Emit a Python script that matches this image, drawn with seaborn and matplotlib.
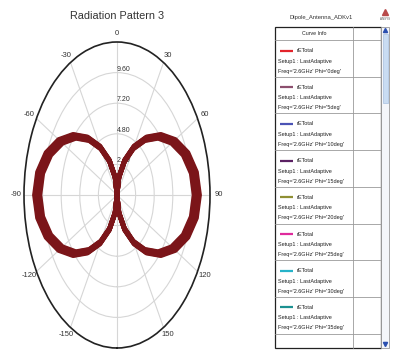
import numpy as np
import pandas as pd
import matplotlib
matplotlib.use("Agg")
import matplotlib.pyplot as plt
from matplotlib.patches import Rectangle
import seaborn as sns

sns.set_theme(style="white")
plt.rcParams["font.family"] = ["Liberation Sans Narrow", "Liberation Sans", "DejaVu Sans"]

# Theta sweep of each far-field cut, degrees
theta_deg = list(range(-180, 181, 10))

# rETotal magnitude for each Phi cut
re_phi0 = [0, 1.46, 2.95, 4.45, 5.95, 7.40, 8.70, 9.74, 10.41, 10.65, 10.41, 9.74, 8.70, 7.40, 5.95, 4.45, 2.95, 1.46,
           0, 1.46, 2.95, 4.45, 5.95, 7.40, 8.70, 9.74, 10.41, 10.65, 10.41, 9.74, 8.70, 7.40, 5.95, 4.45, 2.95, 1.46, 0]
re_phi5 = [0, 1.45, 2.92, 4.41, 5.89, 7.33, 8.61, 9.65, 10.32, 10.55, 10.32, 9.65, 8.61, 7.33, 5.89, 4.41, 2.92, 1.45,
           0, 1.45, 2.92, 4.41, 5.89, 7.33, 8.61, 9.65, 10.32, 10.55, 10.32, 9.65, 8.61, 7.33, 5.89, 4.41, 2.92, 1.45, 0]
re_phi10 = [0, 1.44, 2.89, 4.37, 5.84, 7.26, 8.53, 9.55, 10.22, 10.45, 10.22, 9.55, 8.53, 7.26, 5.84, 4.37, 2.89, 1.44,
            0, 1.44, 2.89, 4.37, 5.84, 7.26, 8.53, 9.55, 10.22, 10.45, 10.22, 9.55, 8.53, 7.26, 5.84, 4.37, 2.89, 1.44, 0]
re_phi15 = [0, 1.42, 2.86, 4.33, 5.78, 7.19, 8.45, 9.46, 10.12, 10.35, 10.12, 9.46, 8.45, 7.19, 5.78, 4.33, 2.86, 1.42,
            0, 1.42, 2.86, 4.33, 5.78, 7.19, 8.45, 9.46, 10.12, 10.35, 10.12, 9.46, 8.45, 7.19, 5.78, 4.33, 2.86, 1.42, 0]
re_phi20 = [0, 1.41, 2.84, 4.28, 5.72, 7.12, 8.37, 9.37, 10.02, 10.25, 10.02, 9.37, 8.37, 7.12, 5.72, 4.28, 2.84, 1.41,
            0, 1.41, 2.84, 4.28, 5.72, 7.12, 8.37, 9.37, 10.02, 10.25, 10.02, 9.37, 8.37, 7.12, 5.72, 4.28, 2.84, 1.41, 0]
re_phi25 = [0, 1.40, 2.81, 4.24, 5.67, 7.05, 8.29, 9.28, 9.93, 10.15, 9.93, 9.28, 8.29, 7.05, 5.67, 4.24, 2.81, 1.40,
            0, 1.40, 2.81, 4.24, 5.67, 7.05, 8.29, 9.28, 9.93, 10.15, 9.93, 9.28, 8.29, 7.05, 5.67, 4.24, 2.81, 1.40, 0]
re_phi30 = [0, 1.38, 2.78, 4.20, 5.61, 6.98, 8.21, 9.19, 9.83, 10.05, 9.83, 9.19, 8.21, 6.98, 5.61, 4.20, 2.78, 1.38,
            0, 1.38, 2.78, 4.20, 5.61, 6.98, 8.21, 9.19, 9.83, 10.05, 9.83, 9.19, 8.21, 6.98, 5.61, 4.20, 2.78, 1.38, 0]
re_phi35 = [0, 1.37, 2.75, 4.16, 5.56, 6.92, 8.12, 9.10, 9.73, 9.95, 9.73, 9.10, 8.12, 6.92, 5.56, 4.16, 2.75, 1.37,
            0, 1.37, 2.75, 4.16, 5.56, 6.92, 8.12, 9.10, 9.73, 9.95, 9.73, 9.10, 8.12, 6.92, 5.56, 4.16, 2.75, 1.37, 0]

phi_labels = ["0deg", "5deg", "10deg", "15deg", "20deg", "25deg", "30deg", "35deg"]
legend_colors = ["#e3242b", "#8c4f6e", "#4b53b5", "#5b2163", "#8f8f33", "#df2b9c", "#26b3c9", "#1c9191"]
curve_color = "#7b1519"

r_ticks = [2.4, 4.8, 7.2, 9.6]
r_max = 12.0
theta_tick_deg = [0, 30, 60, 90, 120, 150, 180, -150, -120, -90, -60, -30]
theta_tick_labels = ["0", "30", "60", "90", "120", "150", "", "-150", "-120", "-90", "-60", "-30"]

series = [re_phi0, re_phi5, re_phi10, re_phi15, re_phi20, re_phi25, re_phi30, re_phi35]
frames = []
for lab, vals in zip(phi_labels, series):
    frames.append(pd.DataFrame({"theta": np.deg2rad(theta_deg), "rE": vals, "phi": lab}))
df = pd.concat(frames, ignore_index=True)

W, H = 393, 350
fig = plt.figure(figsize=(W / 100, H / 100), dpi=100)
fig.patch.set_facecolor("white")

# Polar axes (stretched to an ellipse like the HFSS plot window)
ax = fig.add_axes([24 / W, (H - 348) / H, 186 / W, 306 / H], projection="polar")
ax.set_facecolor("white")

sns.lineplot(data=df, x="theta", y="rE", hue="phi", palette={p: curve_color for p in phi_labels},
             estimator=None, sort=False, linewidth=3.4, legend=False, ax=ax, zorder=3)
for ln in ax.get_lines():
    ln.set_solid_joinstyle("round")
    ln.set_solid_capstyle("round")

ax.set_theta_zero_location("N")
ax.set_theta_direction(-1)
ax.set_thetalim(-np.pi, np.pi)
ax.set_aspect("auto")
ax.set_ylim(0, r_max)
ax.set_yticks(r_ticks)
ax.set_yticklabels([])
ax.set_xlabel("")
ax.set_ylabel("")
ax.set_xticks(np.deg2rad(theta_tick_deg))
ax.set_xticklabels(theta_tick_labels, fontsize=5.5, color="#333333")
ax.set_xticks(np.deg2rad(np.arange(-180, 180, 5)), minor=True)
ax.tick_params(axis="x", which="major", direction="in", length=6, width=1.0, color="#222222", pad=-1)
ax.tick_params(axis="x", which="minor", direction="in", length=3, width=0.8, color="#222222")
ax.grid(True, color="#d6d6d6", linewidth=0.8)
ax.spines["polar"].set_color("#222222")
ax.spines["polar"].set_linewidth(1.2)

for r in r_ticks:
    ax.text(0, r, f"{r:.2f}", ha="left", va="bottom", fontsize=5, color="#333333", zorder=2)

fig.text(117 / W, 1 - 16 / H, "Radiation Pattern 3", ha="center", va="center", fontsize=7.8, color="#333333")

# Curve info panel
pn = fig.add_axes([0, 0, 1, 1])
pn.set_xlim(0, W)
pn.set_ylim(H, 0)
pn.axis("off")
pn.patch.set_alpha(0)

pn.text(321, 17, "Dipole_Antenna_ADKv1", ha="center", va="center", fontsize=4.2, color="#333333")
pn.plot([385], [12], marker="^", markersize=4.5, color="#b84a4a")
pn.text(385, 19, "ANSYS", ha="center", va="center", fontsize=2.2, color="#555555")

top, left, mid, right = 27, 275, 353, 381
row_tops = [40 + 36.7 * i for i in range(9)]
bottom = 348
pn.add_patch(Rectangle((left, top), right - left, bottom - top, facecolor="white", edgecolor="#222222", linewidth=0.9))
pn.plot([mid, mid], [top, bottom], color="#9a9a9a", linewidth=0.6)
for yt in row_tops:
    pn.plot([left, right], [yt, yt], color="#9a9a9a", linewidth=0.6)
pn.text((left + mid) / 2, 33.5, "Curve Info", ha="center", va="center", fontsize=3.8, color="#222222")

for i, (lab, col) in enumerate(zip(phi_labels, legend_colors)):
    y0 = row_tops[i]
    pn.plot([280, 293], [y0 + 10.5, y0 + 10.5], color=col, linewidth=1.6, solid_capstyle="butt")
    pn.text(297, y0 + 10.5, "rETotal", ha="left", va="center", fontsize=4, color="#222222")
    pn.text(278, y0 + 21, "Setup1 : LastAdaptive", ha="left", va="center", fontsize=4, color="#222222")
    pn.text(278, y0 + 31, f"Freq='2.6GHz' Phi='{lab}'", ha="left", va="center", fontsize=4, color="#222222")

# Scroll bar
pn.add_patch(Rectangle((right, top), 8, bottom - top, facecolor="#f4f6fa", edgecolor="#9a9a9a", linewidth=0.6))
pn.add_patch(Rectangle((right + 1.5, 34), 5, 69, facecolor="#c9dcf2", edgecolor="#a8c0e0", linewidth=0.5))
pn.plot([right + 4], [30], marker="^", markersize=3, color="#2a4fb0")
pn.plot([right + 4], [344], marker="v", markersize=3, color="#2a4fb0")

fig.savefig("out.png", dpi=100, facecolor="white")
